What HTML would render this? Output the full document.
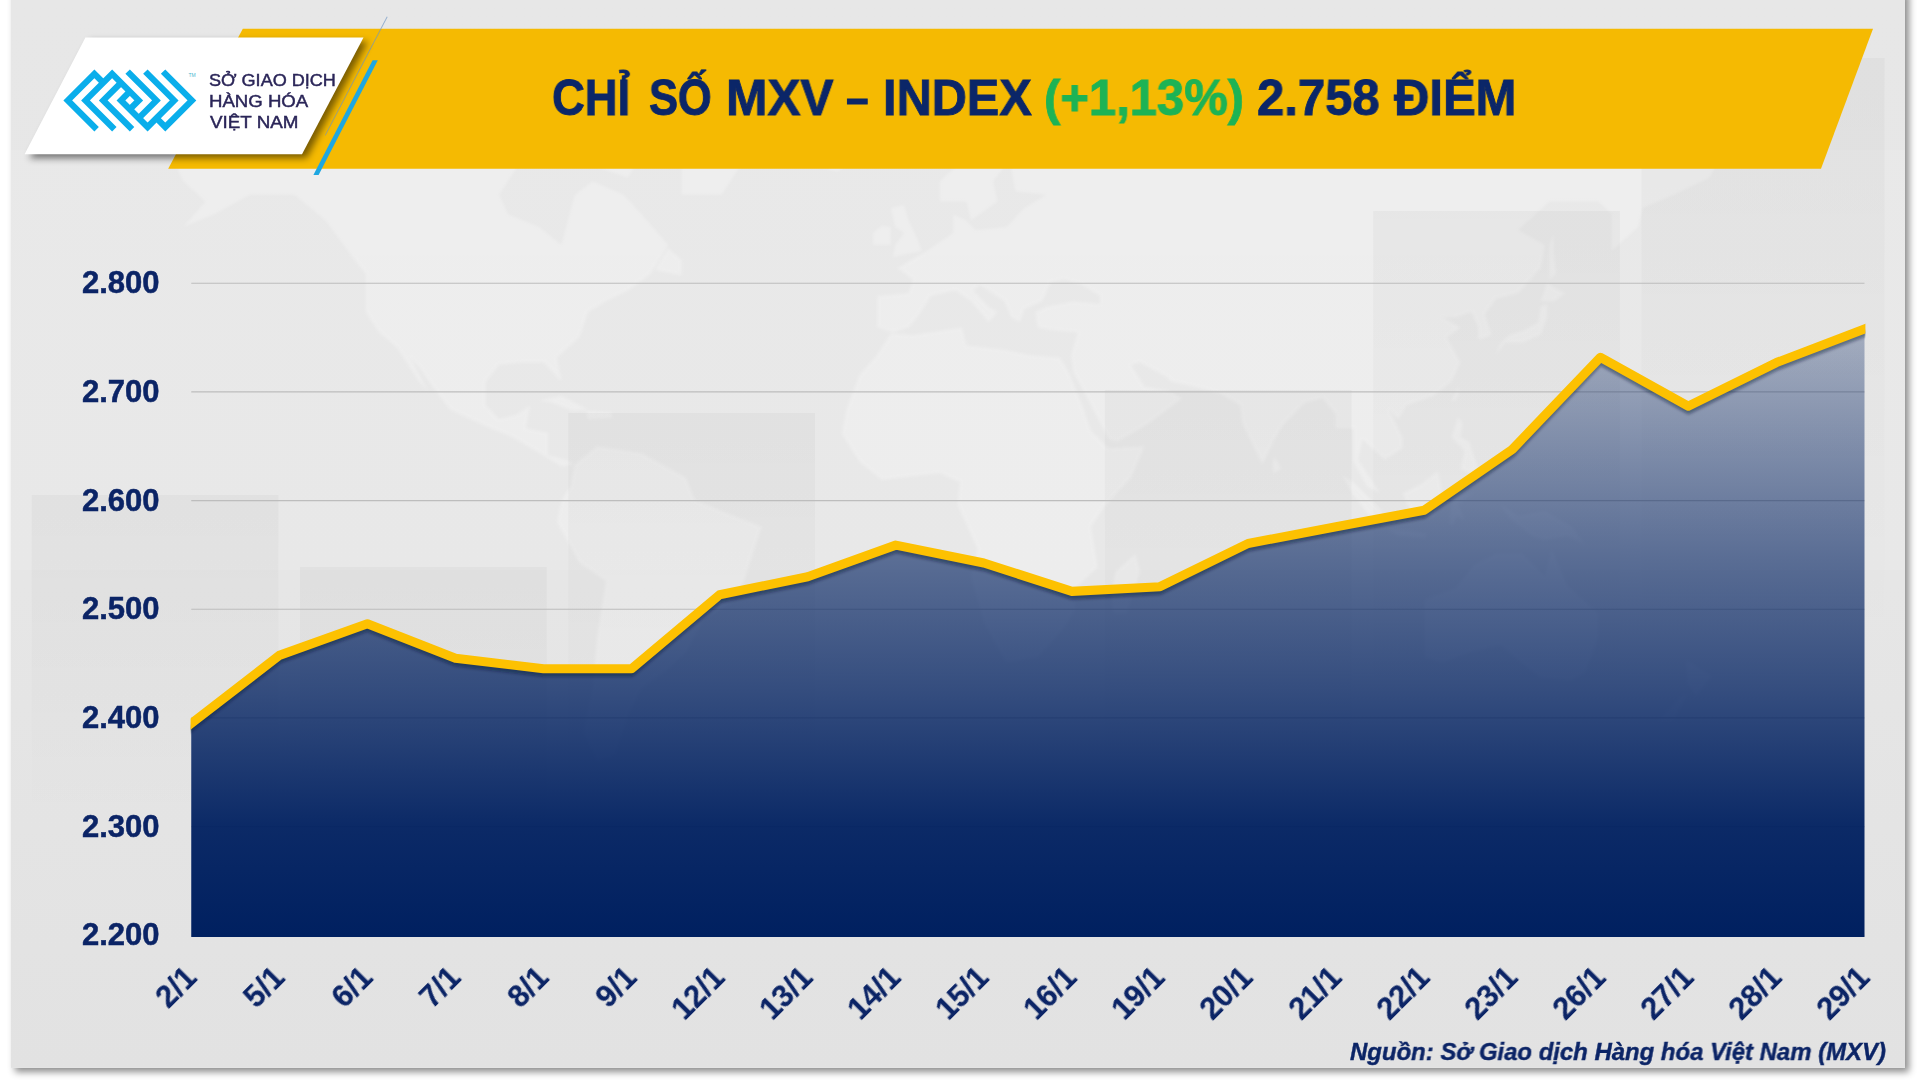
<!DOCTYPE html>
<html lang="vi"><head><meta charset="utf-8"><title>MXV Index</title>
<style>
html,body{margin:0;padding:0;background:#fff;}
body{width:1920px;height:1080px;position:relative;overflow:hidden;font-family:"Liberation Sans",sans-serif;}
#slide{position:absolute;left:11px;top:-10px;width:1894px;height:1077.5px;background:#e6e6e6;box-shadow:4px 4px 7px rgba(0,0,0,.45);overflow:hidden;}
#bg,#fx{position:absolute;left:0;top:0;width:1920px;height:1080px;}
.t{position:absolute;white-space:nowrap;transform-origin:0 0;will-change:transform;}
.xl{-webkit-text-stroke:0.2px;will-change:transform;position:absolute;width:200px;text-align:right;font-weight:bold;line-height:30px;height:30px;color:#0b2466;transform-origin:100% 0%;white-space:nowrap;}
#tm{position:absolute;left:188.5px;top:73.4px;font-size:5px;line-height:5px;color:#4fb7cf;white-space:nowrap;}
</style></head><body>
<div id="slide"></div>
<svg id="bg" viewBox="0 0 1920 1080">
<defs><filter id="mb" x="-2%" y="-2%" width="104%" height="104%"><feGaussianBlur stdDeviation="1.8"/></filter>
<clipPath id="sc"><rect x="11" y="0" width="1894" height="1067.5"/></clipPath>
<linearGradient id="bgg" x1="0" y1="0" x2="0" y2="1"><stop offset="0" stop-color="#e7e7e7"/><stop offset=".55" stop-color="#e6e6e6"/><stop offset="1" stop-color="#e2e2e2"/></linearGradient>
<linearGradient id="barg" x1="0" y1="0" x2="0" y2="1"><stop offset="0" stop-color="#000" stop-opacity=".032"/><stop offset="1" stop-color="#000" stop-opacity="0"/></linearGradient>
<clipPath id="mc"><rect x="11" y="150" width="1894.5" height="800"/></clipPath></defs>
<g clip-path="url(#sc)">
<rect x="11" y="0" width="1895" height="1068" fill="url(#bgg)"/>
<g clip-path="url(#mc)">
<rect x="11" y="150" width="1895" height="420" fill="#fff" opacity=".09"/>
<path d="M169.9,152.9 L196.6,122.3 L250.0,118.3 L294.5,126.2 L347.9,122.3 L405.8,134.0 L450.2,134.0 L494.8,137.9 L525.9,137.9 L552.6,122.3 L561.5,145.4 L534.8,152.9 L517.0,167.3 L499.2,194.8 L508.1,214.3 L539.2,226.9 L561.5,245.1 L566.0,226.9 L574.8,194.8 L592.6,181.3 L623.8,194.8 L641.6,214.3 L668.3,245.1 L650.5,274.0 L628.2,290.5 L606.0,301.3 L588.2,311.9 L579.3,337.6 L557.0,357.5 L561.5,381.7 L552.6,372.1 L543.7,362.4 L521.5,362.4 L499.2,364.8 L485.8,381.7 L485.8,405.2 L499.2,419.0 L517.0,414.4 L530.3,405.2 L525.9,428.2 L548.1,432.7 L548.1,455.3 L566.0,459.8 L574.8,464.3 L561.5,466.6 L539.2,453.1 L512.5,437.3 L490.3,428.2 L450.2,409.8 L432.4,386.4 L419.1,367.3 L410.2,357.5 L428.0,391.1 L419.1,381.7 L396.9,347.6 L379.0,332.6 L365.7,311.9 L365.7,274.0 L347.9,251.0 L325.6,220.6 L294.5,194.8 L250.0,194.8 L214.4,214.3 L183.2,226.9 L205.5,201.4 L183.2,181.3 L169.9,152.9Z M361.2,106.0 L405.8,71.2 L494.8,52.5 L539.2,22.4 L606.0,0.9 L641.6,11.8 L583.8,62.0 L561.5,97.6 L517.0,106.0 L472.5,122.3 L405.8,118.3 L361.2,106.0Z M561.5,97.6 L597.1,114.2 L641.6,152.9 L628.2,177.8 L597.1,167.3 L570.4,137.9 L525.9,122.3 L561.5,97.6Z M681.6,194.8 L721.7,194.8 L739.5,167.3 L775.1,137.9 L819.6,122.3 L828.5,71.2 L806.2,11.8 L717.2,-4.7 L628.2,22.4 L597.1,52.5 L650.5,80.2 L672.8,122.3 L681.6,152.9 L681.6,194.8Z M574.8,464.3 L597.1,446.3 L641.6,453.1 L686.1,477.7 L695.0,500.0 L721.7,511.1 L761.8,526.7 L752.9,553.7 L744.0,581.0 L730.6,604.2 L703.9,618.3 L686.1,652.4 L663.9,672.5 L641.6,688.1 L628.2,714.9 L614.9,754.9 L597.1,760.9 L583.8,731.7 L592.6,688.1 L597.1,637.6 L606.0,581.0 L579.3,562.7 L557.0,522.3 L561.5,500.0 L570.4,486.6 L574.8,464.3Z M877.5,327.5 L877.5,296.0 L908.6,293.3 L913.0,279.5 L897.5,268.3 L926.4,251.0 L953.1,233.0 L953.1,214.3 L966.5,220.6 L975.4,229.9 L1006.5,226.9 L1024.3,207.9 L1046.5,194.8 L1015.4,191.5 L1011.0,167.3 L1028.8,152.9 L1015.4,152.9 L993.1,181.3 L997.6,201.4 L970.9,220.6 L966.5,201.4 L939.8,201.4 L939.8,181.3 L970.9,152.9 L988.7,130.1 L1028.8,114.2 L1055.5,122.3 L1100.0,145.4 L1113.3,134.0 L1184.5,130.1 L1220.1,130.1 L1237.9,97.6 L1273.5,97.6 L1318.0,75.7 L1384.8,57.3 L1420.3,89.0 L1496.0,110.1 L1540.5,97.6 L1629.5,122.3 L1674.0,126.2 L1718.5,134.0 L1763.0,152.9 L1718.5,160.2 L1709.6,177.8 L1674.0,194.8 L1642.8,207.9 L1638.4,226.9 L1611.7,251.0 L1611.7,214.3 L1598.3,201.4 L1549.4,201.4 L1518.2,229.9 L1545.0,245.1 L1540.5,268.3 L1518.2,293.3 L1496.0,298.7 L1484.9,314.5 L1491.6,335.1 L1478.2,340.1 L1478.2,327.5 L1471.5,311.9 L1456.0,317.2 L1442.6,317.2 L1460.4,327.5 L1447.1,337.6 L1460.4,362.4 L1451.5,381.7 L1433.7,395.8 L1407.0,405.2 L1398.1,419.0 L1389.2,409.8 L1402.5,437.3 L1402.5,448.6 L1384.8,459.8 L1362.5,439.6 L1358.0,459.8 L1380.3,493.3 L1367.0,486.6 L1353.6,462.1 L1353.6,428.2 L1335.8,428.2 L1335.8,414.4 L1322.5,398.2 L1304.7,402.8 L1282.4,425.9 L1273.5,441.8 L1262.4,464.3 L1242.3,423.6 L1240.1,405.2 L1220.1,393.5 L1193.4,386.4 L1171.2,381.7 L1166.7,376.9 L1140.0,362.4 L1131.1,364.8 L1144.5,386.4 L1168.9,391.1 L1182.3,398.2 L1148.9,423.6 L1117.8,441.8 L1108.8,439.6 L1091.0,405.2 L1073.2,372.1 L1071.0,355.1 L1077.7,332.6 L1051.0,330.0 L1037.7,327.5 L1035.4,311.9 L1046.5,306.7 L1073.2,301.3 L1100.0,304.0 L1100.0,296.0 L1082.2,285.1 L1064.3,279.5 L1051.0,282.3 L1042.1,301.3 L1024.3,309.3 L1019.9,322.3 L1011.0,317.2 L1004.3,301.3 L979.8,285.1 L973.1,290.5 L988.7,306.7 L997.6,311.9 L988.7,322.3 L970.9,301.3 L955.3,290.5 L930.9,296.0 L917.5,317.2 L908.6,327.5 L893.0,332.6 L877.5,327.5Z M890.8,333.6 L913.0,335.1 L962.0,327.5 L966.5,345.2 L1006.5,350.1 L1028.8,355.1 L1059.9,357.5 L1068.8,372.1 L1082.2,405.2 L1091.0,430.5 L1108.8,448.6 L1144.5,446.3 L1131.1,477.7 L1104.4,506.7 L1091.0,526.7 L1097.7,567.3 L1073.2,590.2 L1075.5,608.9 L1062.1,630.3 L1037.7,657.3 L1006.5,662.4 L997.6,647.4 L984.2,623.1 L970.9,576.4 L977.6,549.2 L957.5,504.5 L959.8,482.2 L939.8,473.3 L899.7,477.7 L881.9,480.0 L859.6,462.1 L841.9,434.1 L846.3,409.8 L859.6,374.5 L875.2,357.5 L890.8,333.6Z M1424.8,599.5 L1424.8,657.3 L1442.6,662.4 L1469.3,652.4 L1500.5,644.9 L1518.2,659.9 L1540.5,677.7 L1571.7,680.3 L1585.0,672.5 L1598.3,637.6 L1598.3,613.6 L1567.2,585.6 L1551.6,549.2 L1545.0,576.4 L1522.7,553.7 L1496.0,553.7 L1473.8,565.0 L1456.0,587.9 L1424.8,599.5Z M893.0,256.8 L922.0,251.0 L917.5,239.1 L908.6,220.6 L904.1,204.7 L890.8,207.9 L895.2,226.9 L904.1,233.0 L895.2,245.1 L893.0,256.8Z M873.0,245.1 L890.8,245.1 L890.8,226.9 L881.9,225.6 L873.0,233.0 L873.0,245.1Z M810.7,156.5 L819.6,167.3 L837.4,171.6 L855.2,160.2 L850.8,150.7 L819.6,149.2 L810.7,156.5Z M1496.0,355.1 L1504.9,342.7 L1522.7,342.7 L1540.5,335.1 L1547.2,317.2 L1547.2,304.0 L1540.5,306.7 L1538.3,322.3 L1524.9,330.0 L1509.3,335.1 L1500.5,342.7 L1496.0,355.1Z M1540.5,301.3 L1553.8,301.3 L1565.0,293.3 L1553.8,287.8 L1547.2,282.3 L1542.7,296.0 L1540.5,301.3Z M1549.4,279.5 L1556.1,274.0 L1553.8,256.8 L1553.8,233.0 L1549.4,245.1 L1549.4,279.5Z M1113.3,613.6 L1126.7,613.6 L1140.0,571.8 L1135.5,553.7 L1115.5,571.8 L1111.1,594.8 L1113.3,613.6Z M1342.5,475.5 L1353.6,482.2 L1380.3,508.9 L1389.2,526.7 L1371.4,517.8 L1353.6,495.5 L1342.5,475.5Z M1402.5,493.3 L1411.5,513.4 L1433.7,517.8 L1442.6,495.5 L1438.2,471.0 L1420.3,484.4 L1402.5,493.3Z M1387.0,529.0 L1407.0,530.3 L1427.0,533.4 L1424.8,537.9 L1398.1,535.7 L1387.0,529.0Z M1449.3,524.5 L1451.5,504.5 L1456.0,495.5 L1473.8,493.3 L1458.2,504.5 L1464.8,520.0 L1456.0,515.6 L1453.7,524.5Z M1500.5,504.5 L1518.2,515.6 L1545.0,511.1 L1571.7,526.7 L1585.0,544.7 L1567.2,535.7 L1545.0,540.2 L1531.6,535.7 L1509.3,517.8 L1500.5,504.5Z M1451.5,437.3 L1458.2,416.7 L1462.6,423.6 L1460.4,437.3 L1469.3,441.8 L1478.2,468.8 L1469.3,473.3 L1460.4,468.8 L1464.8,450.8 L1451.5,437.3Z M1451.5,400.5 L1459.1,386.4 L1458.2,395.8 L1455.1,400.5 L1451.5,400.5Z M1273.5,473.3 L1281.5,468.8 L1274.4,456.7 L1272.6,464.3 L1273.5,473.3Z M1686.0,659.9 L1711.8,676.1 L1696.2,696.0 L1687.3,682.8Z M1687.3,693.3 L1674.0,720.5 L1658.4,720.5 L1678.5,698.7Z M539.2,400.5 L561.5,395.8 L588.2,409.8 L572.6,410.7 L552.6,402.8 L539.2,400.5Z M586.0,410.7 L610.5,412.1 L612.7,417.7 L588.2,419.0 L586.0,410.7Z M655.0,270.0 L681.6,275.6 L681.6,259.7 L668.3,248.0 L655.0,270.0Z M966.5,42.8 L1006.5,62.0 L1037.7,32.7 L997.6,27.6 L966.5,42.8Z M1148.9,114.2 L1171.2,118.3 L1193.4,84.6 L1224.5,62.0 L1184.5,71.2 L1153.3,97.6 L1148.9,114.2Z" fill="#fff" opacity=".25" filter="url(#mb)"/>
</g>
<g fill="url(#barg)">
<rect x="31.7" y="495" width="246.7" height="330"/>
<rect x="300" y="567" width="246.7" height="330"/>
<rect x="568.3" y="413" width="246.7" height="400"/>
<rect x="1104.9" y="390" width="246.7" height="400"/>
<rect x="1373.2" y="211" width="246.7" height="500"/>
<rect x="1641.5" y="58" width="243" height="600"/>
</g>
</g>
</svg>
<svg id="fx" viewBox="0 0 1920 1080">
<defs>
<linearGradient id="ag" gradientUnits="userSpaceOnUse" x1="0" y1="329" x2="0" y2="937">
<stop offset="0" stop-color="#002060" stop-opacity=".28"/>
<stop offset=".375" stop-color="#002060" stop-opacity=".61"/>
<stop offset=".594" stop-color="#002060" stop-opacity=".77"/>
<stop offset=".817" stop-color="#002060" stop-opacity=".95"/>
<stop offset="1" stop-color="#002060" stop-opacity="1"/>
</linearGradient>
<clipPath id="pc"><rect x="190.6" y="200" width="1674.8000000000002" height="737"/></clipPath>
<filter id="sh" x="-20%" y="-20%" width="150%" height="150%"><feGaussianBlur stdDeviation="3.6"/></filter>
<filter id="ls" x="-5%" y="-5%" width="110%" height="120%"><feGaussianBlur stdDeviation="1.6"/></filter>
</defs>
<!-- header -->
<polygon points="242.8,28.8 1873,28.8 1821,168.8 168.2,168.8" fill="#f5ba02"/>
<polygon points="386.8,16.5 387.6,17 325.6,135.6 324.8,135.2" fill="#6f97c4" opacity=".7"/>
<polygon points="372.6,60.2 377.8,60.2 318.6,175 313.4,175" fill="#1ea7e1"/>
<polygon points="90,41.5 368,41.5 306.6,158.2 29.2,158.2" fill="#000" opacity=".5" filter="url(#sh)"/>
<polygon points="85.4,37.5 363.5,37.5 302,154.2 24.6,154.2" fill="#fff"/>
<!-- logo -->
<g transform="translate(63.4,100.4) scale(4.43)" fill="none" stroke="#0aaeeb" stroke-width="1.4142" stroke-linejoin="miter" stroke-miterlimit="10">
<polyline points="7.5,6.5 1,0 7,-6 9,-4"/>
<polyline points="11.5,6.5 5,0 11,-6 17,0 15,2"/>
<polyline points="15.5,6.5 9,0 13,-4"/>
<polyline points="22.5,-6.5 29,0 23,6 21,4"/>
<polyline points="18.5,-6.5 25,0 19,6 13,0 15,-2"/>
<polyline points="14.5,-6.5 21,0 17,4"/>
</g>
<!-- grid -->
<g stroke="#bdbdbd" stroke-width="1.2">
<line x1="191.25" x2="1864.5" y1="283.25" y2="283.25"/>
<line x1="191.25" x2="1864.5" y1="391.92" y2="391.92"/>
<line x1="191.25" x2="1864.5" y1="500.59" y2="500.59"/>
<line x1="191.25" x2="1864.5" y1="609.26" y2="609.26"/>
<line x1="191.25" x2="1864.5" y1="717.93" y2="717.93"/>
<line x1="191.25" x2="1864.5" y1="826.60" y2="826.60"/>
<line x1="191.25" x2="1864.5" y1="935.27" y2="935.27"/>
</g>
<!-- area -->
<path d="M191.25,937 L191.25,723.50 L279.32,655.40 L367.38,623.70 L455.45,658.30 L543.51,668.75 L631.58,668.75 L719.64,594.70 L807.71,576.70 L895.78,545.10 L983.84,563.00 L1071.91,591.40 L1159.97,586.70 L1248.04,543.50 L1336.11,526.75 L1424.17,510.25 L1512.24,449.50 L1600.30,357.30 L1688.37,406.20 L1776.43,362.60 L1864.50,329.00 L1864.50,937 Z" fill="url(#ag)"/>
<g clip-path="url(#pc)">
<polyline points="179.25,732.78 191.25,723.50 279.32,655.40 367.38,623.70 455.45,658.30 543.51,668.75 631.58,668.75 719.64,594.70 807.71,576.70 895.78,545.10 983.84,563.00 1071.91,591.40 1159.97,586.70 1248.04,543.50 1336.11,526.75 1424.17,510.25 1512.24,449.50 1600.30,357.30 1688.37,406.20 1776.43,362.60 1864.50,329.00 1876.50,324.42" transform="translate(0,5)" fill="none" stroke="#0a1430" stroke-opacity=".42" stroke-width="6" stroke-linejoin="round" filter="url(#ls)"/>
<polyline points="179.25,732.78 191.25,723.50 279.32,655.40 367.38,623.70 455.45,658.30 543.51,668.75 631.58,668.75 719.64,594.70 807.71,576.70 895.78,545.10 983.84,563.00 1071.91,591.40 1159.97,586.70 1248.04,543.50 1336.11,526.75 1424.17,510.25 1512.24,449.50 1600.30,357.30 1688.37,406.20 1776.43,362.60 1864.50,329.00 1876.50,324.42" fill="none" stroke="#fdc101" stroke-width="9.1" stroke-linejoin="round"/>
</g>
</svg>
<div id="tm">TM</div>
<div class="t " style="left:208.94px;top:70.60px;font-size:17px;line-height:20px;-webkit-text-stroke:0.45px;color:#2a2558;transform:scaleX(1.0627);">SỞ GIAO DỊCH</div>
<div class="t " style="left:208.91px;top:91.90px;font-size:17px;line-height:20px;-webkit-text-stroke:0.45px;color:#2a2558;transform:scaleX(1.0944);">HÀNG HÓA</div>
<div class="t " style="left:210.00px;top:113.10px;font-size:17px;line-height:20px;-webkit-text-stroke:0.45px;color:#2a2558;transform:scaleX(1.1063);">VIỆT NAM</div>
<div class="t " style="left:552.38px;top:67.70px;font-weight:bold;font-size:50px;line-height:60px;-webkit-text-stroke:0.9px;color:#0b2668;transform:scaleX(0.9083);">CHỈ</div>
<div class="t " style="left:648.53px;top:67.70px;font-weight:bold;font-size:50px;line-height:60px;-webkit-text-stroke:0.9px;color:#0b2668;transform:scaleX(0.8681);">SỐ</div>
<div class="t " style="left:725.62px;top:67.70px;font-weight:bold;font-size:50px;line-height:60px;-webkit-text-stroke:0.9px;color:#0b2668;transform:scaleX(0.9924);">MXV</div>
<div class="t " style="left:846.49px;top:67.70px;font-weight:bold;font-size:50px;line-height:60px;-webkit-text-stroke:0.9px;color:#0b2668;transform:scaleX(0.8077);">–</div>
<div class="t " style="left:882.68px;top:67.70px;font-weight:bold;font-size:50px;line-height:60px;-webkit-text-stroke:0.9px;color:#0b2668;transform:scaleX(0.9733);">INDEX</div>
<div class="t " style="left:1044.04px;top:67.70px;font-weight:bold;font-size:50px;line-height:60px;-webkit-text-stroke:0.9px;color:#1db355;transform:scaleX(0.9795);">(+1,13%)</div>
<div class="t " style="left:1257.02px;top:67.70px;font-weight:bold;font-size:50px;line-height:60px;-webkit-text-stroke:0.9px;color:#0b2668;transform:scaleX(0.9805);">2.758</div>
<div class="t " style="left:1393.60px;top:67.70px;font-weight:bold;font-size:50px;line-height:60px;-webkit-text-stroke:0.9px;color:#0b2668;transform:scaleX(0.9803);">ĐIỂM</div>
<div class="t " style="left:82.10px;top:263.25px;font-weight:bold;font-size:31px;line-height:40px;-webkit-text-stroke:0.5px;color:#0b2466;transform:scaleX(1.0000);">2.800</div>
<div class="t " style="left:82.10px;top:371.92px;font-weight:bold;font-size:31px;line-height:40px;-webkit-text-stroke:0.5px;color:#0b2466;transform:scaleX(1.0000);">2.700</div>
<div class="t " style="left:82.10px;top:480.59px;font-weight:bold;font-size:31px;line-height:40px;-webkit-text-stroke:0.5px;color:#0b2466;transform:scaleX(1.0000);">2.600</div>
<div class="t " style="left:82.10px;top:589.26px;font-weight:bold;font-size:31px;line-height:40px;-webkit-text-stroke:0.5px;color:#0b2466;transform:scaleX(1.0000);">2.500</div>
<div class="t " style="left:82.10px;top:697.93px;font-weight:bold;font-size:31px;line-height:40px;-webkit-text-stroke:0.5px;color:#0b2466;transform:scaleX(1.0000);">2.400</div>
<div class="t " style="left:82.10px;top:806.60px;font-weight:bold;font-size:31px;line-height:40px;-webkit-text-stroke:0.5px;color:#0b2466;transform:scaleX(1.0000);">2.300</div>
<div class="t " style="left:82.10px;top:915.27px;font-weight:bold;font-size:31px;line-height:40px;-webkit-text-stroke:0.5px;color:#0b2466;transform:scaleX(1.0000);">2.200</div>
<div class="xl" style="left:-20.35px;top:960.8px;font-size:30.5px;transform:rotate(-45deg) scaleX(1.0)">2/1</div>
<div class="xl" style="left:67.72px;top:960.8px;font-size:30.5px;transform:rotate(-45deg) scaleX(1.0)">5/1</div>
<div class="xl" style="left:155.78px;top:960.8px;font-size:30.5px;transform:rotate(-45deg) scaleX(1.0)">6/1</div>
<div class="xl" style="left:243.85px;top:960.8px;font-size:30.5px;transform:rotate(-45deg) scaleX(1.0)">7/1</div>
<div class="xl" style="left:331.91px;top:960.8px;font-size:30.5px;transform:rotate(-45deg) scaleX(1.0)">8/1</div>
<div class="xl" style="left:419.98px;top:960.8px;font-size:30.5px;transform:rotate(-45deg) scaleX(1.0)">9/1</div>
<div class="xl" style="left:508.04px;top:960.8px;font-size:30.5px;transform:rotate(-45deg) scaleX(1.0)">12/1</div>
<div class="xl" style="left:596.11px;top:960.8px;font-size:30.5px;transform:rotate(-45deg) scaleX(1.0)">13/1</div>
<div class="xl" style="left:684.18px;top:960.8px;font-size:30.5px;transform:rotate(-45deg) scaleX(1.0)">14/1</div>
<div class="xl" style="left:772.24px;top:960.8px;font-size:30.5px;transform:rotate(-45deg) scaleX(1.0)">15/1</div>
<div class="xl" style="left:860.31px;top:960.8px;font-size:30.5px;transform:rotate(-45deg) scaleX(1.0)">16/1</div>
<div class="xl" style="left:948.37px;top:960.8px;font-size:30.5px;transform:rotate(-45deg) scaleX(1.0)">19/1</div>
<div class="xl" style="left:1036.44px;top:960.8px;font-size:30.5px;transform:rotate(-45deg) scaleX(1.0)">20/1</div>
<div class="xl" style="left:1124.51px;top:960.8px;font-size:30.5px;transform:rotate(-45deg) scaleX(1.0)">21/1</div>
<div class="xl" style="left:1212.57px;top:960.8px;font-size:30.5px;transform:rotate(-45deg) scaleX(1.0)">22/1</div>
<div class="xl" style="left:1300.64px;top:960.8px;font-size:30.5px;transform:rotate(-45deg) scaleX(1.0)">23/1</div>
<div class="xl" style="left:1388.70px;top:960.8px;font-size:30.5px;transform:rotate(-45deg) scaleX(1.0)">26/1</div>
<div class="xl" style="left:1476.77px;top:960.8px;font-size:30.5px;transform:rotate(-45deg) scaleX(1.0)">27/1</div>
<div class="xl" style="left:1564.83px;top:960.8px;font-size:30.5px;transform:rotate(-45deg) scaleX(1.0)">28/1</div>
<div class="xl" style="left:1652.90px;top:960.8px;font-size:30.5px;transform:rotate(-45deg) scaleX(1.0)">29/1</div>
<div class="t " style="left:1349.90px;top:1037.00px;font-weight:bold;font-style:italic;font-size:24px;line-height:30px;-webkit-text-stroke:0.4px;color:#0b2466;transform:scaleX(0.9961);">Nguồn: Sở Giao dịch Hàng hóa Việt Nam (MXV)</div>
</body></html>
